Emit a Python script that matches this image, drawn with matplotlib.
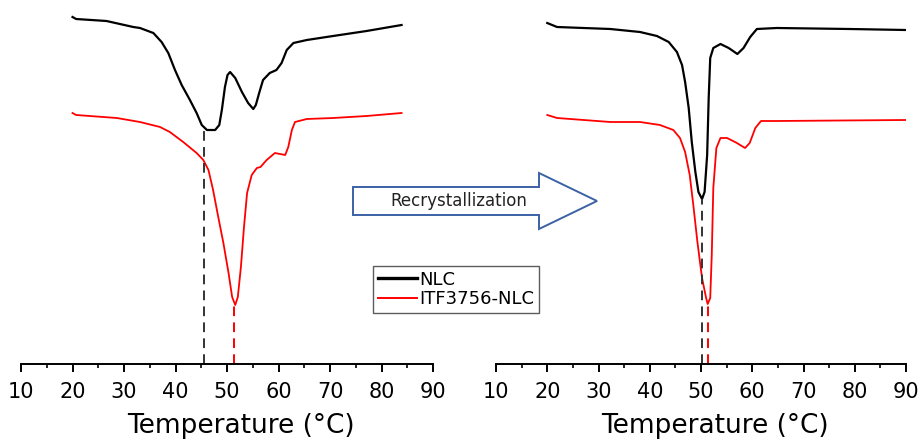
import matplotlib
matplotlib.use("Agg")
import matplotlib.pyplot as plt
from matplotlib.patches import Polygon
from matplotlib.transforms import Affine2D

# before recrystallization (left panel)
t_nlc_a = [20.0, 20.7, 26.6, 31.8, 33.1, 35.7, 37.3, 38.6, 39.9, 41.2, 42.8, 44.1,
           45.1, 46.1, 47.7, 48.5, 49.0, 49.6, 50.1, 50.6, 51.6, 52.9, 54.1, 55.1,
           55.6, 56.3, 57.0, 58.3, 59.6, 60.6, 61.6, 62.9, 65.5, 70.6, 77.1, 83.9]
hf_nlc_a = [3.47, 3.45, 3.43, 3.37, 3.36, 3.31, 3.22, 3.11, 2.94, 2.79, 2.64, 2.51,
            2.39, 2.34, 2.34, 2.39, 2.54, 2.77, 2.89, 2.92, 2.86, 2.72, 2.61, 2.55,
            2.59, 2.72, 2.84, 2.91, 2.94, 3.01, 3.14, 3.21, 3.24, 3.28, 3.33, 3.39]
t_itf_a = [20.0, 20.7, 28.6, 33.1, 37.0, 38.9, 41.5, 44.1, 45.4, 46.4, 47.3, 48.3,
           49.3, 50.3, 51.0, 51.6, 52.1, 52.7, 53.3, 53.9, 54.8, 55.8, 56.5, 57.7,
           59.3, 61.3, 61.9, 62.6, 63.2, 65.5, 70.6, 77.1, 83.9]
hf_itf_a = [2.51, 2.49, 2.46, 2.42, 2.37, 2.32, 2.22, 2.11, 2.04, 1.94, 1.74, 1.47,
            1.21, 0.91, 0.67, 0.59, 0.67, 0.97, 1.37, 1.71, 1.89, 1.96, 1.97, 2.04,
            2.11, 2.09, 2.17, 2.34, 2.42, 2.45, 2.46, 2.48, 2.51]

# after recrystallization (right panel)
t_nlc_b = [20.0, 21.9, 32.3, 38.1, 41.4, 43.7, 45.3, 46.3, 46.9, 47.6, 48.2, 48.9,
           49.5, 50.2, 50.7, 51.2, 51.5, 51.8, 52.4, 53.8, 55.4, 57.1, 58.3, 59.6,
           60.9, 64.8, 79.0, 90.0]
hf_nlc_b = [3.41, 3.37, 3.35, 3.32, 3.28, 3.22, 3.12, 2.99, 2.82, 2.56, 2.22, 1.92,
            1.72, 1.65, 1.72, 2.09, 2.66, 3.06, 3.16, 3.20, 3.16, 3.10, 3.16, 3.27,
            3.35, 3.36, 3.35, 3.34]
t_itf_b = [20.0, 21.9, 32.3, 38.1, 42.0, 44.6, 45.9, 46.9, 47.8, 48.5, 49.3, 50.2,
           51.0, 51.3, 51.8, 52.1, 52.4, 53.0, 53.8, 55.1, 57.0, 58.6, 59.5, 60.6,
           61.7, 64.8, 90.0]
hf_itf_b = [2.49, 2.46, 2.42, 2.42, 2.39, 2.34, 2.26, 2.12, 1.89, 1.59, 1.22, 0.86,
            0.66, 0.60, 0.66, 1.09, 1.76, 2.16, 2.26, 2.26, 2.21, 2.16, 2.21, 2.36,
            2.43, 2.43, 2.44]

# peak markers (temperature, depth)
peaks_a = [(45.6, 2.34, "#333333"), (51.3, 0.59, "red")]
peaks_b = [(50.1, 1.65, "#333333"), (51.3, 0.60, "red")]

fig = plt.figure(figsize=(9.22, 4.42), dpi=100)
W, H = 922, 442


def make_axes(left_px, right_px, curves, peaks):
    ax = fig.add_axes([left_px / W, 78 / H, (right_px - left_px) / W, 364 / H])
    for t, hf, c, lw, lab in curves:
        ax.plot(t, hf, color=c, lw=lw, label=lab, solid_joinstyle="round")
    for t, d, c in peaks:
        ax.vlines(t, 0, d, colors=c, lw=1.4, linestyles=(0, (5.0, 3.2)))
    ax.set_xlim(10, 90)
    ax.set_ylim(0, 3.64)
    for s in ["top", "left", "right"]:
        ax.spines[s].set_visible(False)
    ax.spines["bottom"].set_linewidth(1.4)
    ax.set_yticks([])
    ax.set_xticks(range(10, 91, 10))
    ax.set_xticks(range(15, 90, 10), minor=True)
    ax.tick_params(axis="x", which="major", length=6, width=1.4, labelsize=15, pad=7)
    ax.tick_params(axis="x", which="minor", length=3, width=1.2)
    ax.set_xlabel("Temperature (°C)", fontsize=19)
    ax.xaxis.set_label_coords(0.535, -0.135)
    ax.patch.set_alpha(0)
    return ax


ax1 = make_axes(21, 433, [(t_nlc_a, hf_nlc_a, "black", 1.6, "NLC"),
                          (t_itf_a, hf_itf_a, "red", 1.3, "ITF3756-NLC")], peaks_a)
ax2 = make_axes(496, 906, [(t_nlc_b, hf_nlc_b, "black", 1.6, "NLC"),
                           (t_itf_b, hf_itf_b, "red", 1.3, "ITF3756-NLC")], peaks_b)

# legend
leg = fig.legend(*ax1.get_legend_handles_labels(), loc="upper left",
                 bbox_to_anchor=(373 / W, 1 - 266 / H), fontsize=13,
                 frameon=True, fancybox=False, borderpad=0.25, handlelength=2.2,
                 handletextpad=0.1, labelspacing=0.1, borderaxespad=0)
leg.get_frame().set_edgecolor("#333333")
leg.get_frame().set_linewidth(1.0)
leg.legend_handles[0].set_linewidth(2.4)
leg.legend_handles[1].set_linewidth(1.4)

# block arrow, in pixels from top-left
px = Affine2D().scale(1 / W, -1 / H).translate(0, 1) + fig.transFigure
arrow = Polygon([(353, 187), (539, 187), (539, 173), (597, 201), (539, 229),
                 (539, 215), (353, 215)], closed=True, facecolor="white",
                edgecolor="#3c62a6", lw=1.4, transform=px)
fig.patches.append(arrow)
fig.text(459 / W, 1 - 201 / H, "Recrystallization", fontsize=12,
         ha="center", va="center", color="#222222")

fig.savefig("out.png", dpi=100)
